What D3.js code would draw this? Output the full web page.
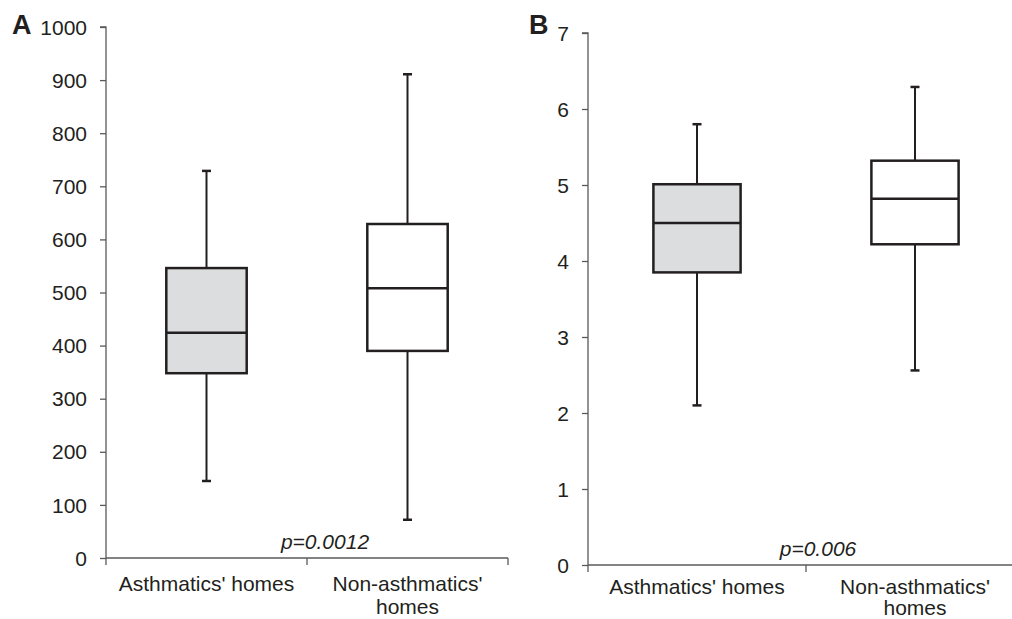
<!DOCTYPE html>
<html><head><meta charset="utf-8">
<script src="https://cdn.jsdelivr.net/npm/d3@7"></script>
<style>
body{margin:0;background:#fff;}
text{font-family:Arial,"Liberation Sans",Helvetica,sans-serif;fill:#231f20;}
</style></head>
<body><svg id="chart" width="1012" height="619"></svg>
<script>
// ---- data ----
const categories = ["Asthmatics' homes", "Non-asthmatics' homes"];
const categoryLines = [["Asthmatics' homes"], ["Non-asthmatics'", "homes"]];
const fills = ["#dcdddf", "#ffffff"];
// panel A
const aTicks = [0,100,200,300,400,500,600,700,800,900,1000];
const aWhiskerLow  = [145, 72];
const aQ1          = [348, 390];
const aMedian      = [424, 508];
const aQ3          = [546, 629];
const aWhiskerHigh = [729, 911];
const aP = "p=0.0012";
// panel B
const bTicks = [0,1,2,3,4,5,6,7];
const bWhiskerLow  = [2.10, 2.56];
const bQ1          = [3.85, 4.22];
const bMedian      = [4.50, 4.82];
const bQ3          = [5.01, 5.32];
const bWhiskerHigh = [5.80, 6.29];
const bP = "p=0.006";

const svg = d3.select("#chart");
const ink = "#231f20";
const axisCol = "#5a5a5a";
const fs = 21;

function panel(cfg){
  const g = svg.append("g");
  const y = d3.scaleLinear().domain(cfg.domain).range([cfg.y0, cfg.y1]);
  const x = d3.scaleBand().domain(categories).range([cfg.x0, cfg.x1]).paddingInner(0).paddingOuter(0);
  // y axis
  const ya = g.append("g").attr("transform", `translate(${cfg.x0},0)`)
    .call(d3.axisLeft(y).tickValues(cfg.ticks).tickSize(6).tickPadding(13).tickFormat(d3.format("d")));
  ya.select(".domain").attr("stroke", axisCol).attr("stroke-width",1.3).attr("d", `M-6,${cfg.y1}H0V${cfg.y0}`);
  ya.selectAll(".tick line").attr("stroke", axisCol).attr("stroke-width",1.3);
  ya.selectAll(".tick text").attr("font-size", fs).attr("fill", ink).attr("dy","0.34em")
    .style("font-family","Arial, 'Liberation Sans', sans-serif");
  // x axis line
  g.append("line").attr("x1", cfg.x0).attr("x2", cfg.x1).attr("y1", cfg.y0).attr("y2", cfg.y0)
    .attr("stroke", axisCol).attr("stroke-width",1.3);
  const bounds = categories.map(c => x(c)).concat([x.range()[1]]);
  g.selectAll(".xt").data(bounds).join("line")
    .attr("x1", d=>d).attr("x2", d=>d).attr("y1", cfg.y0).attr("y2", cfg.y0+7)
    .attr("stroke", axisCol).attr("stroke-width",1.3);
  // category labels
  categories.forEach((c,i)=>{
    const t = g.append("text").attr("text-anchor","middle").attr("font-size",fs)
      .attr("x", x(c)+x.bandwidth()/2).attr("y", cfg.y0 + cfg.labOff);
    categoryLines[i].forEach((ln,j)=>{
      t.append("tspan").attr("x", x(c)+x.bandwidth()/2).attr("dy", j===0?0:cfg.lineH).text(ln);
    });
  });
  // boxes
  const bw = x.bandwidth()*0.4;
  const cap = 9;
  categories.forEach((c,i)=>{
    const cx = x(c)+x.bandwidth()/2;
    g.append("line").attr("x1",cx).attr("x2",cx).attr("y1",y(cfg.wl[i])).attr("y2",y(cfg.q1[i]))
      .attr("stroke",ink).attr("stroke-width",2);
    g.append("line").attr("x1",cx).attr("x2",cx).attr("y1",y(cfg.q3[i])).attr("y2",y(cfg.wh[i]))
      .attr("stroke",ink).attr("stroke-width",2);
    [cfg.wl[i], cfg.wh[i]].forEach(v=>{
      g.append("line").attr("x1",cx-cap/2).attr("x2",cx+cap/2).attr("y1",y(v)).attr("y2",y(v))
        .attr("stroke",ink).attr("stroke-width",2.5);
    });
    g.append("rect").attr("x",cx-bw/2).attr("width",bw)
      .attr("y",y(cfg.q3[i])).attr("height",y(cfg.q1[i])-y(cfg.q3[i]))
      .attr("fill",fills[i]).attr("stroke",ink).attr("stroke-width",2.5);
    g.append("line").attr("x1",cx-bw/2).attr("x2",cx+bw/2).attr("y1",y(cfg.med[i])).attr("y2",y(cfg.med[i]))
      .attr("stroke",ink).attr("stroke-width",2.5);
  });
  // p value
  g.append("text").attr("text-anchor","middle").attr("font-size",fs).attr("font-style","italic")
    .attr("x", x(categories[1]) + cfg.pOff).attr("y", cfg.y0 - 9).text(cfg.p);
  // panel letter
  g.append("text").attr("font-size",27).attr("font-weight","bold")
    .attr("x", cfg.letterX).attr("y", 34).text(cfg.letter);
}

panel({domain:[0,1000], ticks:aTicks, y0:558, y1:27, x0:106, x1:508, labOff:33, lineH:23,
  wl:aWhiskerLow, q1:aQ1, med:aMedian, q3:aQ3, wh:aWhiskerHigh, p:aP, pOff:18, letter:"A", letterX:12});
panel({domain:[0,7], ticks:bTicks, y0:565, y1:33, x0:588, x1:1024, labOff:29, lineH:21,
  wl:bWhiskerLow, q1:bQ1, med:bMedian, q3:bQ3, wh:bWhiskerHigh, p:bP, pOff:12, letter:"B", letterX:529});
</script></body></html>
